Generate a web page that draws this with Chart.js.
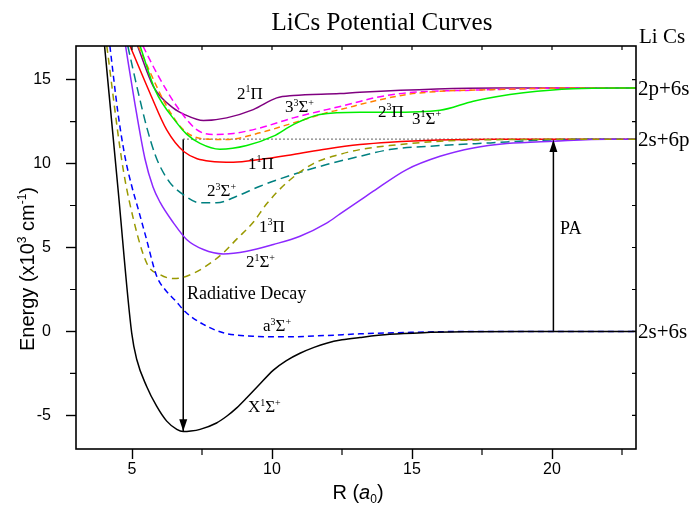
<!DOCTYPE html>
<html>
<head>
<meta charset="utf-8">
<script src="https://cdn.jsdelivr.net/npm/chart.js@4/dist/chart.umd.min.js"></script>
<style>
  html, body { margin: 0; padding: 0; background: #fff; }
  #wrap { width: 696px; height: 510px; position: relative; }
</style>
</head>
<body>
<div id="wrap"><canvas id="pec"></canvas></div>
<script>
// R in bohr (a0), energy in 10^3 cm^-1
const xSigmaR = [4.02, 4.5, 4.99, 5.17, 5.52, 5.88, 6.24, 6.6, 6.83, 7.1, 7.43, 8.02, 8.38, 8.74, 9.1, 9.5, 10.05, 10.5, 11.0, 11.5, 11.95, 12.5, 13.14, 14.2, 15.4, 17, 19, 23];
const xSigmaE = [17, 8.5, -0.1, -1.67, -3.26, -4.45, -5.34, -5.83, -5.96, -5.93, -5.83, -5.45, -5.05, -4.55, -3.95, -3.25, -2.3, -1.75, -1.3, -0.95, -0.7, -0.5, -0.36, -0.17, -0.07, -0.02, 0, 0];

const aSigmaR = [4.21, 4.5, 4.75, 5.0, 5.22, 5.5, 5.88, 6.2, 6.54, 6.95, 7.55, 8.26, 9.33, 10.5, 11.95, 13.14, 15, 17, 23];
const aSigmaE = [17, 13.0, 10.4, 8.6, 7.3, 5.6, 3.3, 2.45, 1.85, 1.1, 0.42, -0.08, -0.28, -0.32, -0.24, -0.14, -0.05, 0, 0];

const pi13R = [4.1, 4.63, 4.89, 5.52, 6.0, 6.48, 6.95, 7.55, 8.26, 8.74, 9.33, 9.81, 10.52, 11.48, 12.43, 13.14, 14.2, 16, 18, 23];
const pi13E = [17, 10.24, 7.86, 4.09, 3.39, 3.15, 3.29, 3.79, 4.68, 5.5, 6.5, 7.6, 8.85, 10.0, 10.55, 10.83, 11.07, 11.33, 11.42, 11.45];

const sigma23R = [4.85, 5.2, 5.52, 5.82, 6.0, 6.36, 6.83, 7.43, 8.02, 8.74, 9.57, 10.76, 11.95, 13.14, 14.2, 16, 17.8, 19.6, 22, 23];
const sigma23E = [17, 14.4, 12.2, 10.55, 9.84, 8.85, 8.15, 7.66, 7.66, 8.05, 8.65, 9.35, 9.94, 10.43, 10.83, 11.07, 11.23, 11.39, 11.45, 11.45];

const pi11R = [4.93, 5.64, 6.24, 6.86, 7.79, 8.62, 9.57, 10.76, 11.95, 13.14, 14.2, 16, 18, 23];
const pi11E = [17, 14.2, 12.0, 10.7, 10.14, 10.08, 10.24, 10.54, 10.87, 11.13, 11.27, 11.4, 11.45, 11.45];

const sigma21R = [4.77, 5.1, 5.46, 5.75, 6.0, 6.48, 6.95, 7.55, 8.26, 9.1, 10.05, 11.0, 11.95, 12.43, 13.14, 13.62, 14.81, 16, 17.19, 18.38, 20.05, 22, 23];
const sigma21E = [17, 13.6, 10.3, 8.6, 7.7, 6.47, 5.48, 4.88, 4.62, 4.78, 5.18, 5.67, 6.45, 7.0, 7.8, 8.35, 9.64, 10.43, 10.93, 11.19, 11.33, 11.45, 11.45];

const sigma31R = [5.29, 5.82, 6.6, 6.95, 7.43, 8.14, 9.1, 10.05, 10.76, 11.71, 13.14, 14.2, 16.0, 17.19, 18.98, 20.76, 23];
const sigma31E = [17, 14.4, 12.42, 11.75, 11.2, 10.85, 11.07, 11.63, 12.32, 12.92, 13.05, 13.05, 13.17, 13.71, 14.21, 14.46, 14.5];

const pi23R = [5.22, 6.24, 6.83, 7.55, 8.38, 9.57, 10.76, 11.95, 12.43, 13.62, 14.81, 16.0, 17.8, 21, 23];
const pi23E = [17, 13.41, 12.02, 11.47, 11.43, 11.83, 12.42, 13.02, 13.21, 13.71, 14.11, 14.3, 14.4, 14.5, 14.5];

const sigma33R = [5.39, 5.88, 6.6, 7.31, 7.9, 8.62, 9.57, 10.76, 11.95, 12.43, 13.14, 13.62, 14.81, 17.19, 21, 23];
const sigma33E = [17, 15.4, 13.41, 12.02, 11.73, 11.79, 12.12, 12.72, 13.21, 13.4, 13.7, 13.9, 14.21, 14.37, 14.5, 14.5];

const pi21R = [5.2, 5.76, 6.48, 6.9, 7.55, 8.38, 9.33, 10.17, 10.76, 12.43, 13.14, 18, 23];
const pi21E = [17, 14.6, 13.3, 12.9, 12.56, 12.72, 13.21, 13.91, 14.05, 14.17, 14.25, 14.5, 14.5];

// arrows and the 2s+6p reference line
const decayR = [6.83, 6.83];
const decayE = [11.45, -5.95];
const paR = [20.05, 20.05];
const paE = [0, 11.4];
const limitR = [6.83, 23];
const limitE = [11.45, 11.45];

// axis ticks
const xMajorTicks = [5, 10, 15, 20];
const xMinorTicks = [7.5, 12.5, 17.5, 22.5];
const yMajorTicks = [-5, 0, 5, 10, 15];
const yMinorTicks = [-2.5, 2.5, 7.5, 12.5];

// labels
const curveLabels = ['2^{1}Π', '3^{3}Σ^{+}', '2^{3}Π', '3^{1}Σ^{+}', '1^{1}Π', '2^{3}Σ^{+}', '1^{3}Π', '2^{1}Σ^{+}', 'a^{3}Σ^{+}', 'X^{1}Σ^{+}'];
const curveLabelR = [8.75, 10.46, 13.79, 15.0, 9.14, 7.68, 9.54, 9.07, 9.68, 9.14];
const curveLabelE = [13.87, 13.04, 12.8, 12.38, 9.7, 8.04, 5.95, 3.81, 0.0, -4.82];
const asymptoteLabels = ['2p+6s', '2s+6p', '2s+6s'];
const asymptoteE = [14.5, 11.45, 0];

const SERIF = '"Liberation Serif", "Times New Roman", serif';
const SANS = '"Liberation Sans", Arial, sans-serif';

function pts(rs, es) {
  return rs.map((r, i) => ({ x: r, y: es[i] }));
}

function curve(rs, es, color, dash) {
  return {
    data: pts(rs, es),
    borderColor: color,
    borderWidth: 1.5,
    borderDash: dash || [],
    pointRadius: 0,
    cubicInterpolationMode: 'monotone',
    fill: false
  };
}

function parseRich(str) {
  const parts = [];
  const re = /\^\{([^}]*)\}|_\{([^}]*)\}|\*\{([^}]*)\}|([^^_*]+)/g;
  let m;
  while ((m = re.exec(str))) {
    if (m[1] !== undefined) parts.push({ t: m[1], k: 'sup' });
    else if (m[2] !== undefined) parts.push({ t: m[2], k: 'sub' });
    else if (m[3] !== undefined) parts.push({ t: m[3], k: 'it' });
    else parts.push({ t: m[4], k: '' });
  }
  return parts;
}

function richFont(k, size, family) {
  const s = (k === 'sup' || k === 'sub') ? Math.round(size * 0.6) : size;
  return (k === 'it' ? 'italic ' : '') + s + 'px ' + family;
}

function drawRich(ctx, str, x, y, size, family, align) {
  const parts = parseRich(str);
  ctx.save();
  ctx.textBaseline = 'alphabetic';
  ctx.textAlign = 'left';
  ctx.fillStyle = '#000';
  let w = 0;
  parts.forEach(p => { ctx.font = richFont(p.k, size, family); w += ctx.measureText(p.t).width; });
  let cx = align === 'center' ? x - w / 2 : (align === 'right' ? x - w : x);
  parts.forEach(p => {
    ctx.font = richFont(p.k, size, family);
    const dy = p.k === 'sup' ? -size * 0.4 : (p.k === 'sub' ? size * 0.2 : 0);
    ctx.fillText(p.t, cx, y + dy);
    cx += ctx.measureText(p.t).width;
  });
  ctx.restore();
}

function arrowHead(ctx, px, py, dir) {
  // dir = 1 points down, -1 points up
  ctx.beginPath();
  ctx.moveTo(px, py);
  ctx.lineTo(px - 4, py - dir * 12);
  ctx.lineTo(px + 4, py - dir * 12);
  ctx.closePath();
  ctx.fill();
}

const decorations = {
  id: 'decorations',
  afterDatasetsDraw(chart) {
    const { ctx, chartArea: a, scales: { x, y } } = chart;
    ctx.save();
    ctx.strokeStyle = '#000';
    ctx.fillStyle = '#000';

    // frame
    ctx.lineWidth = 1.6;
    ctx.strokeRect(a.left, a.top, a.right - a.left, a.bottom - a.top);

    // minor outer ticks, inner ticks on top and right
    ctx.lineWidth = 1.2;
    ctx.beginPath();
    xMinorTicks.forEach(v => {
      const px = x.getPixelForValue(v);
      ctx.moveTo(px, a.bottom); ctx.lineTo(px, a.bottom + 6);
    });
    yMinorTicks.forEach(v => {
      const py = y.getPixelForValue(v);
      ctx.moveTo(a.left, py); ctx.lineTo(a.left - 6, py);
    });
    xMajorTicks.concat(xMinorTicks).forEach(v => {
      const px = x.getPixelForValue(v);
      ctx.moveTo(px, a.top); ctx.lineTo(px, a.top + 4);
    });
    yMajorTicks.concat(yMinorTicks).forEach(v => {
      const py = y.getPixelForValue(v);
      ctx.moveTo(a.right, py); ctx.lineTo(a.right - 4, py);
    });
    ctx.stroke();

    // arrow heads
    arrowHead(ctx, x.getPixelForValue(decayR[1]), y.getPixelForValue(decayE[1]), 1);
    arrowHead(ctx, x.getPixelForValue(paR[1]), y.getPixelForValue(paE[1]), -1);

    // curve labels
    curveLabels.forEach((t, i) => {
      drawRich(ctx, t, x.getPixelForValue(curveLabelR[i]), y.getPixelForValue(curveLabelE[i]), 17, SERIF, 'left');
    });
    drawRich(ctx, 'Radiative Decay', x.getPixelForValue(6.96), y.getPixelForValue(1.96), 18, SERIF, 'left');
    drawRich(ctx, 'PA', x.getPixelForValue(20.29), y.getPixelForValue(5.83), 18, SERIF, 'left');

    // dissociation limits
    asymptoteLabels.forEach((t, i) => {
      drawRich(ctx, t, a.right + 2, y.getPixelForValue(asymptoteE[i]) + 7, 21, SERIF, 'left');
    });
    drawRich(ctx, 'Li Cs', a.right + 3, 43, 21, SERIF, 'left');

    // title
    drawRich(ctx, 'LiCs Potential Curves', 382, 30, 25, SERIF, 'center');

    // axis titles
    drawRich(ctx, 'R (*{a}_{0})', 358, 499, 20, SANS, 'center');
    ctx.save();
    ctx.translate(34, 269);
    ctx.rotate(-Math.PI / 2);
    drawRich(ctx, 'Energy (x10^{3} cm^{-1})', 0, 0, 20, SANS, 'center');
    ctx.restore();

    ctx.restore();
  }
};

const tickFont = { family: SANS, size: 16 };

new Chart(document.getElementById('pec'), {
  type: 'line',
  data: {
    datasets: [
      curve(xSigmaR, xSigmaE, '#000000'),
      curve(aSigmaR, aSigmaE, '#0000ff', [6, 4]),
      curve(pi13R, pi13E, '#999900', [7, 5]),
      curve(sigma21R, sigma21E, '#8c28ff'),
      curve(sigma23R, sigma23E, '#008080', [9, 5]),
      curve(pi11R, pi11E, '#ff0000'),
      curve(sigma31R, sigma31E, '#00ee00'),
      curve(pi23R, pi23E, '#ff8000', [6, 4]),
      curve(sigma33R, sigma33E, '#ff00ff', [7, 4]),
      curve(pi21R, pi21E, '#800080'),
      { data: pts(limitR, limitE), borderColor: '#555', borderWidth: 1.2, borderDash: [1.5, 2.5], pointRadius: 0 },
      { data: pts(decayR, decayE), borderColor: '#000', borderWidth: 1.5, pointRadius: 0 },
      { data: pts(paR, paE), borderColor: '#000', borderWidth: 1.5, pointRadius: 0 }
    ]
  },
  options: {
    responsive: true,
    maintainAspectRatio: false,
    animation: false,
    events: [],
    layout: { padding: { left: 0, right: 60, top: 46, bottom: 0 } },
    plugins: { legend: { display: false }, tooltip: { enabled: false }, title: { display: false } },
    scales: {
      x: {
        type: 'linear',
        min: 3,
        max: 23,
        afterBuildTicks: s => { s.ticks = xMajorTicks.concat(xMinorTicks).sort((p, q) => p - q).map(v => ({ value: v })); },
        afterFit: s => { s.height = 61; },
        border: { display: false },
        grid: {
          drawOnChartArea: false,
          tickLength: 10,
          tickWidth: 1.4,
          tickColor: c => (c.tick && xMajorTicks.includes(c.tick.value)) ? '#000' : 'rgba(0,0,0,0)'
        },
        ticks: {
          autoSkip: false,
          maxRotation: 0,
          padding: 1,
          color: '#000',
          font: tickFont,
          callback: v => xMajorTicks.includes(v) ? String(v) : ''
        }
      },
      y: {
        type: 'linear',
        min: -7,
        max: 17,
        afterBuildTicks: s => { s.ticks = yMajorTicks.concat(yMinorTicks).sort((p, q) => p - q).map(v => ({ value: v })); },
        afterFit: s => { s.width = 76; },
        border: { display: false },
        grid: {
          drawOnChartArea: false,
          tickLength: 10,
          tickWidth: 1.4,
          tickColor: c => (c.tick && yMajorTicks.includes(c.tick.value)) ? '#000' : 'rgba(0,0,0,0)'
        },
        ticks: {
          autoSkip: false,
          padding: 15,
          color: '#000',
          font: tickFont,
          callback: v => yMajorTicks.includes(v) ? String(v) : ''
        }
      }
    }
  },
  plugins: [decorations]
});
</script>
</body>
</html>
